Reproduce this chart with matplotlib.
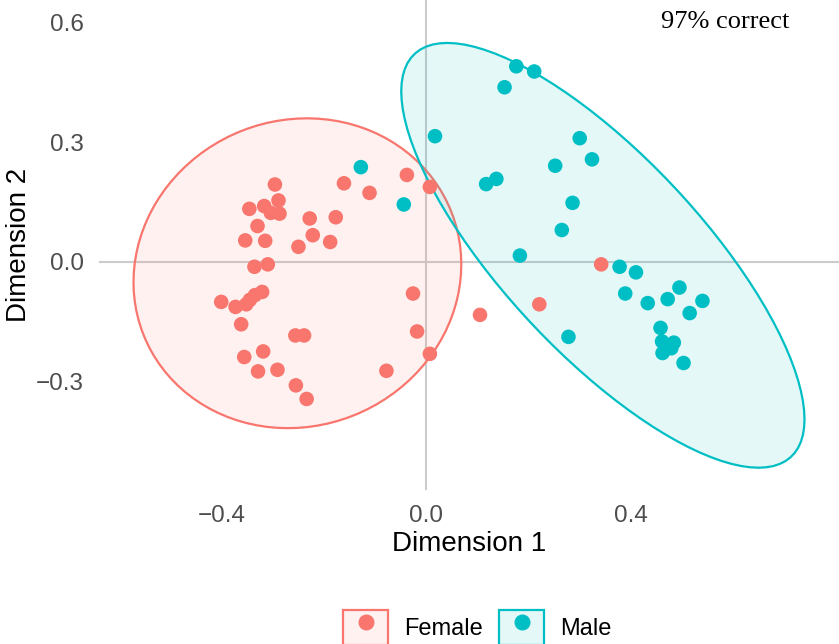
import numpy as np
import matplotlib
matplotlib.use("Agg")
import matplotlib.pyplot as plt
import matplotlib.patches as mpatches
from matplotlib.lines import Line2D
from matplotlib.colors import to_rgba

# point coordinates
female_x = [-0.296, -0.161, -0.038, 0.007, -0.111, -0.289, -0.346, -0.317, -0.304, -0.287,
            -0.228, -0.177, -0.330, -0.222, -0.354, -0.315, -0.250, -0.188, -0.336, -0.310,
            -0.026, -0.401, -0.373, -0.352, -0.345, -0.335, -0.321, -0.362, -0.018, -0.256,
            -0.239, -0.356, -0.319, 0.007, -0.329, -0.291, -0.078, -0.255, -0.234, 0.342,
            0.221, 0.105]
female_y = [0.194, 0.197, 0.218, 0.188, 0.173, 0.154, 0.133, 0.140, 0.123, 0.121,
            0.109, 0.112, 0.090, 0.067, 0.054, 0.053, 0.038, 0.050, -0.012, -0.006,
            -0.079, -0.100, -0.1125, -0.106, -0.095, -0.083, -0.075, -0.156, -0.174, -0.184,
            -0.184, -0.238, -0.224, -0.230, -0.274, -0.270, -0.2725, -0.309, -0.343, -0.006,
            -0.106, -0.1325]
male_x = [0.176, 0.211, 0.153, 0.017, 0.300, 0.324, 0.252, 0.117, 0.137, -0.044,
          0.286, 0.265, 0.183, -0.128, 0.378, 0.410, 0.389, 0.433, 0.472, 0.495,
          0.540, 0.515, 0.458, 0.278, 0.461, 0.484, 0.462, 0.479, 0.503]
male_y = [0.490, 0.477, 0.4375, 0.315, 0.310, 0.257, 0.241, 0.195, 0.208, 0.144,
          0.148, 0.080, 0.016, 0.2375, -0.012, -0.026, -0.079, -0.103, -0.093, -0.064,
          -0.0975, -0.128, -0.165, -0.1875, -0.199, -0.202, -0.228, -0.216, -0.253]

groups = ["Female", "Male"]
colors = ["#F8766D", "#00BFC4"]
x_ticks = [-0.4, 0.0, 0.4]
y_ticks = [-0.3, 0.0, 0.3, 0.6]
annotation = "97% correct"


def trob(xy, nu=5, maxit=25, tol=0.01):
    # multivariate t fit, same idea as MASS::cov.trob
    n, p = xy.shape
    w = np.ones(n)
    loc = xy.mean(0)
    for _ in range(maxit):
        w0 = w
        X = xy - loc
        S = (w[:, None] * X).T @ X / w.sum()
        Q = np.einsum("ij,jk,ik->i", X, np.linalg.inv(S), X)
        w = (nu + p) / (nu + Q)
        loc = (w[:, None] * xy).sum(0) / w.sum()
        if np.all(np.abs(w - w0) < tol):
            break
    X = xy - loc
    cov = (w[:, None] * X).T @ X / n
    return loc, cov


def ellipse_path(x, y, level=0.95, segments=100):
    xy = np.column_stack([x, y])
    loc, cov = trob(xy)
    d = len(x) - 1
    fq = d / 2 * ((1 - level) ** (-2 / d) - 1)   # qf(level, 2, d)
    radius = np.sqrt(2 * fq)
    t = np.linspace(0, 2 * np.pi, segments + 1)
    circle = np.column_stack([np.cos(t), np.sin(t)])
    R = np.linalg.cholesky(cov).T
    return radius * circle @ R + loc


plt.rcParams["font.family"] = ["Liberation Sans", "DejaVu Sans"]
plt.rcParams["axes.unicode_minus"] = True

fig = plt.figure(figsize=(8.39, 6.44), dpi=100)
ax = fig.add_axes([99 / 839, 154 / 644, 740 / 839, 490 / 644])

ax.axhline(0, color="#CCCCCC", lw=1.5, zorder=1)
ax.axvline(0, color="#CCCCCC", lw=1.5, zorder=1)

data = [(female_x, female_y), (male_x, male_y)]
for (gx, gy), c in zip(data, colors):
    pts = ellipse_path(np.array(gx), np.array(gy))
    ax.add_patch(mpatches.Polygon(pts, closed=True, facecolor=to_rgba(c, 0.1),
                                  edgecolor=c, lw=1.6, zorder=2))
for (gx, gy), c in zip(data, colors):
    ax.scatter(gx, gy, s=110, color=c, edgecolors="none", zorder=3)

ax.text(0.585, 0.6, annotation, ha="center", va="center", fontsize=19,
        family=["Liberation Serif", "DejaVu Serif"], color="black")

ax.set_xlim(-0.64, 0.807)
ax.set_ylim(-0.571, 0.656)
ax.set_xticks(x_ticks)
ax.set_yticks(y_ticks)
ax.set_xticklabels([f"{v:.1f}".replace("-", "\u2212") for v in x_ticks])
ax.set_yticklabels([f"{v:.1f}".replace("-", "\u2212") for v in y_ticks])
ax.tick_params(length=0, pad=11, labelsize=17.5, labelcolor="#4D4D4D")
ax.set_xlabel("Dimension 1", fontsize=20, labelpad=3)
ax.set_ylabel("Dimension 2", fontsize=20, labelpad=2.5)
for s in ax.spines.values():
    s.set_visible(False)

handles = []
for c in colors:
    box = mpatches.Patch(facecolor=to_rgba(c, 0.1), edgecolor=c, linewidth=1.6)
    dot = Line2D([], [], marker="o", color=c, linestyle="", markersize=10.5)
    handles.append((box, dot))
fig.legend(handles, groups, loc="center", bbox_to_anchor=(0.569, 0.026), ncol=2,
           frameon=False, fontsize=17, handlelength=1.9, handleheight=1.9,
           handletextpad=0.68, columnspacing=0.68)

fig.savefig("out.png", dpi=100)
